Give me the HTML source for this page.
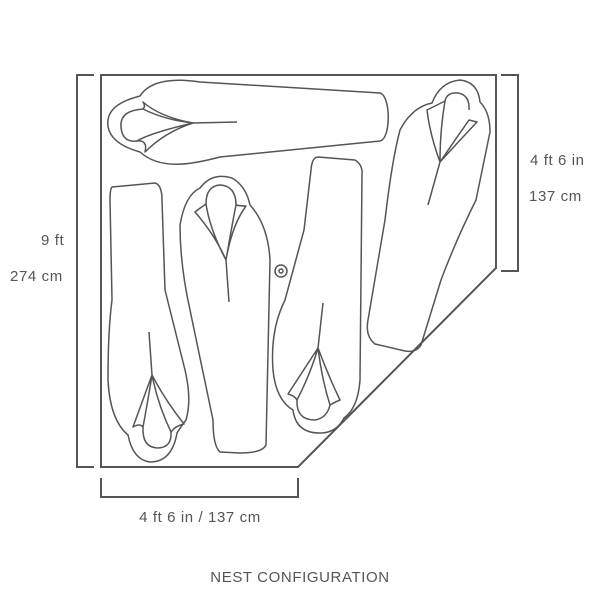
<!DOCTYPE html>
<html><head><style>
body{margin:0;background:#fff;}
svg{display:block}
text{font-family:"Liberation Sans",sans-serif;fill:#555;font-size:15px;letter-spacing:0.6px}
</style></head><body>
<svg width="600" height="600" viewBox="0 0 600 600">
<g fill="none" stroke="#555" stroke-width="2">
<polygon points="101,75 496,75 496,268 298,467 101,467"/>
<path d="M94,75 H77 V467 H94"/>
<path d="M501,75 H518 V271 H501"/>
<path d="M101,478 V497 H298 V478"/>
</g>
<g fill="none" stroke="#555" stroke-width="1.5" stroke-linejoin="round">
<path d="M140,96 C150,80 175,78 200,82 L380,93 C391,96 391,139 380,141 L220,157 C190,165 160,170 140,152 C118,146 106,135 108,120 C110,106 125,100 140,96Z"/>
<path d="M143,109 C130,110 120,114 121,127 C122,140 130,142 137,141"/>
<path d="M143,102 Q160,117 193,123 Q165,132 145,152 Q148,140 137,141 Q150,133 193,123 Q165,120 143,109 Q146,106 143,102Z"/>
<path d="M193,123 L237,122"/>
<path d="M112,187 L155,183 Q162,185 162,200 L165,290 Q175,330 185,370 Q192,400 186,420 Q180,428 177,433 Q172,462 150,462 Q133,460 128,435 Q110,420 108,380 Q108,330 112,300 L110,200 Q110,189 112,187Z"/>
<path d="M143,427 Q142,447 157,448 Q172,448 171,432"/>
<path d="M149,332 L152,375 L133,427 Q140,423 143,427 Q148,400 152,375 Q158,405 171,432 Q175,426 184,424 Q165,400 152,375"/>
<path d="M180,225 Q185,195 200,188 Q212,172 232,178 Q246,186 250,205 Q268,225 270,260 L266,445 Q262,453 240,453 L220,452 Q213,446 213,420 L190,310 Q180,265 180,225Z"/>
<path d="M206,204 Q206,186 220,185 Q236,186 236,205"/>
<path d="M195,212 Q200,208 206,204 Q210,230 226,260 Q215,235 195,212Z M226,260 L229,302 M226,260 Q232,225 236,205 Q240,206 246,206 Q232,225 226,260Z"/>
<path d="M318,157 L355,160 Q363,165 362,175 L360,380 Q358,408 344,418 Q337,432 322,433 Q296,434 293,410 Q276,400 273,370 Q270,330 285,300 L304,230 L311,170 Q312,157 318,157Z"/>
<path d="M297,400 Q296,420 315,420 Q327,418 330,405"/>
<path d="M323,303 L318,348 L288,394 Q295,396 297,400 Q310,375 318,348 Q322,380 330,405 Q335,402 340,400 Q328,375 318,348"/>
<path d="M432,103 Q440,82 460,80 Q478,82 480,102 Q490,112 490,132 L476,200 Q456,240 441,280 L421,345 Q416,353 405,351 L375,344 Q365,336 368,320 L385,220 Q392,160 400,130 Q412,107 432,103Z"/>
<path d="M445,101 Q447,92 458,93 Q470,95 469,110"/>
<path d="M427,110 L445,101 Q440,130 440,162 Q430,135 427,110Z M440,162 Q455,140 469,120 L477,122 Q460,140 440,162Z M440,162 L428,205"/>
</g>
<circle cx="281" cy="271" r="6" fill="none" stroke="#555" stroke-width="1.5"/>
<circle cx="281" cy="271" r="2" fill="none" stroke="#555" stroke-width="1.5"/>
<text x="41" y="245">9 ft</text>
<text x="10" y="281">274 cm</text>
<text x="530" y="165">4 ft 6 in</text>
<text x="529" y="201">137 cm</text>
<text x="200" y="522" text-anchor="middle">4 ft 6 in / 137 cm</text>
<text x="300" y="582" text-anchor="middle" letter-spacing="0.8">NEST CONFIGURATION</text>
</svg>
</body></html>
